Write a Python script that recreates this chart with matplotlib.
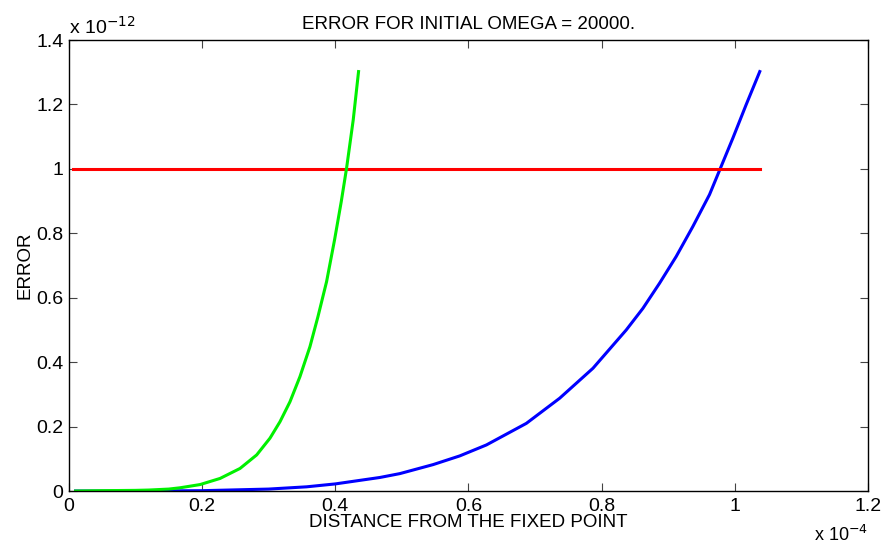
import matplotlib
matplotlib.use('Agg')
import matplotlib.pyplot as plt
from matplotlib.ticker import FuncFormatter
import numpy as np

plt.rcParams['font.family'] = ['Liberation Sans', 'DejaVu Sans']

# distances in units of 1e-4, errors in units of 1e-12
green_x = [0.010, 0.047, 0.100, 0.120, 0.150, 0.167, 0.197, 0.227, 0.257, 0.282,
           0.302, 0.317, 0.332, 0.347, 0.362, 0.374, 0.387, 0.399, 0.409, 0.417,
           0.427, 0.435]
green_y = [0.000, 0.001, 0.002, 0.003, 0.006, 0.010, 0.020, 0.039, 0.070, 0.112,
           0.164, 0.215, 0.277, 0.355, 0.448, 0.541, 0.650, 0.780, 0.898, 1.002,
           1.152, 1.302]

blue_x = [0.010, 0.100, 0.200, 0.300, 0.357, 0.400, 0.467, 0.497, 0.547, 0.587,
          0.627, 0.687, 0.737, 0.787, 0.837, 0.862, 0.887, 0.912, 0.937, 0.962,
          0.977, 0.997, 1.017, 1.0375]
blue_y = [0.000, 0.000, 0.001, 0.006, 0.013, 0.022, 0.042, 0.054, 0.082, 0.109,
          0.143, 0.210, 0.288, 0.381, 0.500, 0.567, 0.645, 0.728, 0.821, 0.920,
          0.995, 1.095, 1.199, 1.302]

red_x = [0.006, 1.0375]
red_y = [1.0, 1.0]

xs = 1e-4
ys = 1e-12

fig = plt.figure(figsize=(8.83, 5.48), dpi=100)
ax = fig.add_axes([0.078, 0.104, 0.905, 0.823])

ax.plot(np.array(blue_x) * xs, np.array(blue_y) * ys, color='#0000ff', lw=2.2)
ax.plot(np.array(red_x) * xs, np.array(red_y) * ys, color='#ff0000', lw=2.2)
ax.plot(np.array(green_x) * xs, np.array(green_y) * ys, color='#00f000', lw=2.2)

ax.set_xlim(0, 1.2e-4)
ax.set_ylim(0, 1.4e-12)
ax.set_xticks(np.arange(0, 1.21, 0.2) * xs)
ax.set_yticks(np.arange(0, 1.41, 0.2) * ys)
ax.xaxis.set_major_formatter(FuncFormatter(lambda v, p: '%g' % round(v / xs, 6)))
ax.yaxis.set_major_formatter(FuncFormatter(lambda v, p: '%g' % round(v / ys, 6)))
ax.tick_params(direction='in', top=True, right=True, length=6, width=0.8,
               color='#444444', labelsize=14)
ax.tick_params(axis='x', pad=5)
ax.tick_params(axis='y', pad=4)
for s in ax.spines.values():
    s.set_linewidth(1.0)

ax.set_title('ERROR FOR INITIAL OMEGA = 20000.', fontsize=13.5, pad=8)
ax.set_xlabel('DISTANCE FROM THE FIXED POINT', fontsize=13.5, labelpad=-1)
ax.set_ylabel('ERROR', fontsize=13.5, labelpad=2)

ax.text(0.0, 1.005, 'x 10$^{-12}$', transform=ax.transAxes, fontsize=14,
        ha='left', va='bottom')
fig.text(0.983, 0.006, 'x 10$^{-4}$', fontsize=13, ha='right', va='bottom')

plt.savefig('out.png', dpi=100)
